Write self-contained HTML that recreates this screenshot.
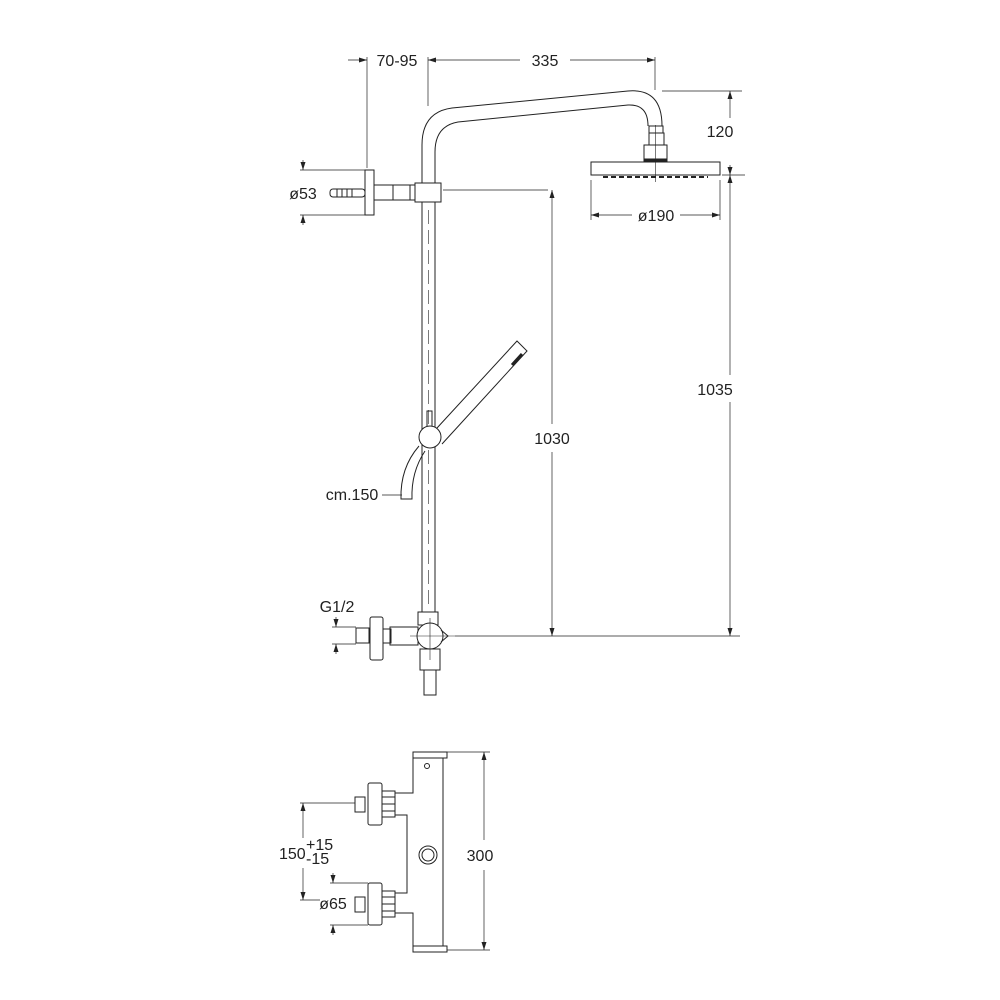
<!DOCTYPE html>
<html><head><meta charset="utf-8"><style>
html,body{margin:0;padding:0;background:#fff;width:1000px;height:1000px;overflow:hidden}
svg{display:block}
text{font-family:"Liberation Sans",sans-serif;font-size:16px;fill:#222}
</style></head><body>
<svg width="1000" height="1000" viewBox="0 0 1000 1000">
<defs>
<marker id="a" markerWidth="8" markerHeight="5" refX="8" refY="2.5" orient="auto-start-reverse" markerUnits="userSpaceOnUse"><path d="M0,0 L8,2.5 L0,5z" fill="#222"/></marker>
</defs>
<g fill="none" stroke="#222" stroke-width="1">
<path d="M422,612 V145 Q422,112 452,108 L628,91 Q662,88 662,126"/>
<path d="M435,612 V152 Q435,126 458,122 L628,105 Q648,104 648,126"/>
<line x1="428.5" y1="210" x2="428.5" y2="610" stroke-dasharray="14,6" stroke-width="0.6"/>
<rect x="649" y="126" width="14" height="7"/>
<rect x="649" y="133" width="15" height="12"/>
<rect x="644" y="145" width="23" height="17"/>
<line x1="644" y1="160" x2="667" y2="160" stroke-width="3"/>
<rect x="591" y="162" width="129" height="13"/>
<line x1="603" y1="177" x2="708" y2="177" stroke-width="2" stroke-dasharray="5,3"/>
<line x1="655.5" y1="125" x2="655.5" y2="182" stroke-width="0.6"/>
<rect x="365" y="170" width="9" height="45"/>
<rect x="330" y="189" width="35" height="8" rx="3"/>
<line x1="337" y1="189" x2="337" y2="197"/><line x1="342" y1="189" x2="342" y2="197"/><line x1="347" y1="189" x2="347" y2="197"/><line x1="352" y1="189" x2="352" y2="197"/>
<rect x="374" y="185" width="41" height="15"/>
<line x1="393" y1="185" x2="393" y2="200"/><line x1="410" y1="185" x2="410" y2="200"/>
<rect x="415" y="183" width="26" height="19" fill="#fff"/>
<path d="M437,428 L517,341 L527,351 L442,444" fill="#fff"/>
<line x1="512" y1="365" x2="522" y2="354" stroke-width="3"/>
<rect x="427" y="411" width="5" height="16"/>
<circle cx="430" cy="437" r="11" fill="#fff"/>
<path d="M419,446 Q400,468 401,499 L412,499 Q411,472 425,451"/>
<rect x="418" y="612" width="20" height="13"/>
<rect x="390" y="627" width="28" height="18"/>
<rect x="383" y="629" width="8" height="14"/>
<rect x="370" y="617" width="13" height="43" rx="2"/>
<rect x="356" y="628" width="13" height="15"/>
<circle cx="430" cy="636" r="13" fill="#fff"/>
<path d="M441,630 L448,636 L441,642"/>
<rect x="420" y="649" width="20" height="21"/>
<rect x="424" y="670" width="12" height="25"/>
<line x1="410" y1="636" x2="455" y2="636" stroke-width="0.6"/>
<line x1="430" y1="618" x2="430" y2="660" stroke-width="0.6"/>
<rect x="413" y="752" width="34" height="6"/>
<rect x="413" y="946" width="34" height="6"/>
<path d="M413,758 V793 H395 M443,758 V946 M413,946 V913 H395 M395,815 H407 V893 H395"/>
<circle cx="427" cy="766" r="2.5"/>
<circle cx="428" cy="855" r="9"/><circle cx="428" cy="855" r="6"/>
<rect x="368" y="783" width="14" height="42" rx="2"/>
<rect x="382" y="791" width="13" height="26"/>
<line x1="382" y1="797" x2="395" y2="797"/><line x1="382" y1="804" x2="395" y2="804"/><line x1="382" y1="811" x2="395" y2="811"/>
<rect x="355" y="797" width="10" height="15"/>
<rect x="368" y="883" width="14" height="42" rx="2"/>
<rect x="382" y="891" width="13" height="26"/>
<line x1="382" y1="897" x2="395" y2="897"/><line x1="382" y1="904" x2="395" y2="904"/><line x1="382" y1="911" x2="395" y2="911"/>
<rect x="355" y="897" width="10" height="15"/>
</g>
<g fill="none" stroke="#222" stroke-width="0.7">
<line x1="367" y1="57" x2="367" y2="168"/>
<line x1="428" y1="57" x2="428" y2="106"/>
<line x1="655" y1="57" x2="655" y2="90"/>
<line x1="348" y1="60" x2="367" y2="60" marker-end="url(#a)"/>
<line x1="428" y1="60" x2="520" y2="60" marker-start="url(#a)"/>
<line x1="570" y1="60" x2="655" y2="60" marker-end="url(#a)"/>
<line x1="662" y1="91" x2="742" y2="91"/>
<line x1="722" y1="175" x2="745" y2="175"/>
<line x1="730" y1="91" x2="730" y2="118" marker-start="url(#a)"/>
<line x1="730" y1="165" x2="730" y2="175" marker-end="url(#a)"/>
<line x1="730" y1="186" x2="730" y2="175" marker-end="url(#a)"/>
<line x1="730" y1="186" x2="730" y2="375"/>
<line x1="730" y1="402" x2="730" y2="636" marker-end="url(#a)"/>
<line x1="591" y1="180" x2="591" y2="220"/>
<line x1="720" y1="180" x2="720" y2="220"/>
<line x1="591" y1="215" x2="632" y2="215" marker-start="url(#a)"/>
<line x1="680" y1="215" x2="720" y2="215" marker-end="url(#a)"/>
<line x1="300" y1="170" x2="365" y2="170"/>
<line x1="300" y1="215" x2="365" y2="215"/>
<line x1="303" y1="160" x2="303" y2="170" marker-end="url(#a)"/>
<line x1="303" y1="225" x2="303" y2="215" marker-end="url(#a)"/>
<line x1="443" y1="190" x2="548" y2="190"/>
<line x1="552" y1="190" x2="552" y2="424" marker-start="url(#a)"/>
<line x1="552" y1="452" x2="552" y2="636" marker-end="url(#a)"/>
<line x1="455" y1="636" x2="740" y2="636"/>
<line x1="382" y1="495" x2="402" y2="495"/>
<line x1="332" y1="627" x2="356" y2="627"/>
<line x1="332" y1="644" x2="356" y2="644"/>
<line x1="336" y1="617" x2="336" y2="627" marker-end="url(#a)"/>
<line x1="336" y1="654" x2="336" y2="644" marker-end="url(#a)"/>
<line x1="447" y1="752" x2="490" y2="752"/>
<line x1="447" y1="950" x2="490" y2="950"/>
<line x1="484" y1="752" x2="484" y2="840" marker-start="url(#a)"/>
<line x1="484" y1="870" x2="484" y2="950" marker-end="url(#a)"/>
<line x1="300" y1="803" x2="355" y2="803"/>
<line x1="300" y1="900" x2="320" y2="900"/>
<line x1="303" y1="803" x2="303" y2="838" marker-start="url(#a)"/>
<line x1="303" y1="868" x2="303" y2="900" marker-end="url(#a)"/>
<line x1="330" y1="883" x2="368" y2="883"/>
<line x1="330" y1="925" x2="368" y2="925"/>
<line x1="333" y1="873" x2="333" y2="883" marker-end="url(#a)"/>
<line x1="333" y1="935" x2="333" y2="925" marker-end="url(#a)"/>
</g>
<text x="397" y="66" text-anchor="middle">70-95</text>
<text x="545" y="66" text-anchor="middle">335</text>
<text x="720" y="137" text-anchor="middle">120</text>
<text x="656" y="221" text-anchor="middle">ø190</text>
<text x="303" y="199" text-anchor="middle">ø53</text>
<text x="715" y="395" text-anchor="middle">1035</text>
<text x="552" y="444" text-anchor="middle">1030</text>
<text x="352" y="500" text-anchor="middle">cm.150</text>
<text x="337" y="612" text-anchor="middle">G1/2</text>
<text x="480" y="861" text-anchor="middle">300</text>
<text x="279" y="859">150</text>
<text x="306" y="850">+15</text>
<text x="306" y="864">-15</text>
<text x="333" y="909" text-anchor="middle">ø65</text>
</svg>
</body></html>
